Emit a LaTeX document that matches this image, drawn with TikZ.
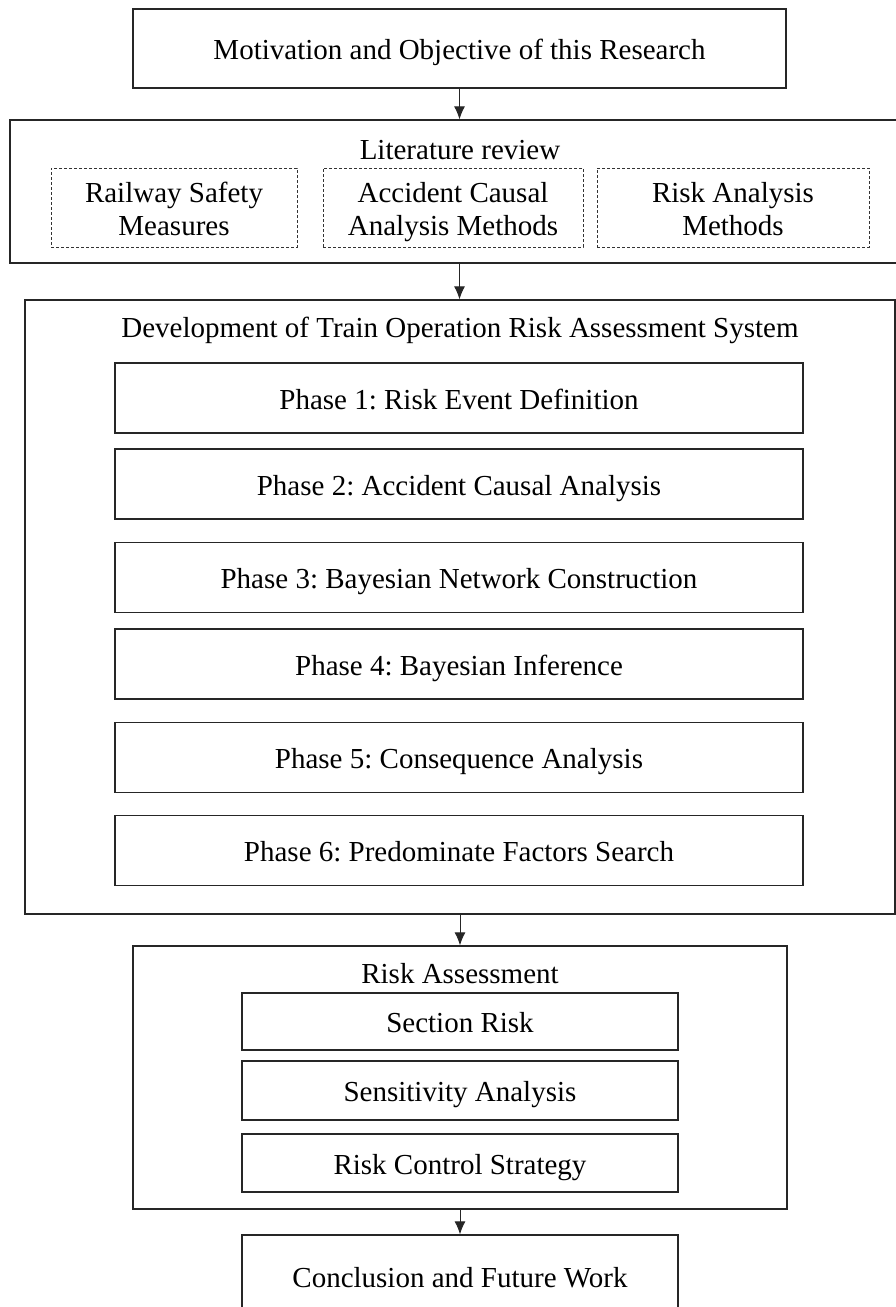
\documentclass[tikz,border=0pt]{standalone}
\usepackage{fontspec}
\setmainfont{Liberation Serif}
\usetikzlibrary{arrows.meta,positioning}
\frenchspacing
% two lines in a dashed box, on fixed baselines
\newcommand{\duoline}[2]{\rule{0pt}{32pt}#1\\#2\strut}

\begin{document}
\begin{tikzpicture}[x=1pt,y=-1pt,>={Latex[length=13pt,width=11pt]},
  font=\fontsize{29}{33}\selectfont,
  box/.style={draw=black!85,line width=1.3pt,inner sep=0pt,align=center,
    text height=25pt,text depth=3pt},
  dashbox/.style={draw=black!80,line width=1pt,dash pattern=on 3pt off 2pt,
    inner sep=0pt,align=center},
  title/.style={inner sep=0pt,text height=25pt,text depth=3pt},
  link/.style={->,line width=1pt,draw=black!85}]
  \useasboundingbox (0,0) rectangle (896,1307);

  % Motivation
  \node[box,minimum width=653pt,minimum height=79pt] (motiv) at (459.5,48.5)
    {Motivation and Objective of this Research};

  % Literature review
  \node[box,minimum width=900pt,minimum height=143pt] (lit) at (460,191.5) {};
  \node[title] (littitle) at (460,148.5) {Literature review};
  \node[dashbox,minimum width=246pt,minimum height=79pt] (railway) at (174,207.5)
    {\duoline{Railway Safety}{Measures}};
  \node[dashbox,minimum width=260pt,minimum height=79pt] (causal) at (453,207.5)
    {\duoline{Accident Causal}{Analysis Methods}};
  \node[dashbox,minimum width=272pt,minimum height=79pt] (riskmeth) at (733,207.5)
    {\duoline{Risk Analysis}{Methods}};

  % Development of the system
  \node[box,minimum width=870pt,minimum height=614pt] (dev) at (460,607) {};
  \node[title] (devtitle) at (460,326)
    {Development of Train Operation Risk Assessment System};
  \foreach \i/\y/\txt in {1/398/Risk Event Definition,
                          2/484/Accident Causal Analysis,
                          3/577.5/Bayesian Network Construction,
                          4/664/Bayesian Inference,
                          5/757.5/Consequence Analysis,
                          6/850.5/Predominate Factors Search}{
    \node[box,minimum width=688pt,minimum height=70pt] (phase\i) at (459,\y)
      {Phase \i: \txt};
  }

  % Risk assessment
  \node[box,minimum width=654pt,minimum height=263pt] (risk) at (460,1077.5) {};
  \node[title] (risktitle) at (460,972) {Risk Assessment};
  \node[box,minimum width=436pt,minimum height=57pt] (section) at (460,1021.5)
    {Section Risk};
  \node[box,minimum width=436pt,minimum height=59pt] (sens) at (460,1090.5)
    {Sensitivity Analysis};
  \node[box,minimum width=436pt,minimum height=58pt] (control) at (460,1163)
    {Risk Control Strategy};

  % Conclusion
  \node[box,minimum width=436pt,minimum height=83pt] (concl) at (460,1276.5)
    {Conclusion and Future Work};

  % Flow
  \draw[link] (motiv.south) -- (motiv.south |- lit.north);
  \draw[link] (motiv.south |- lit.south) -- (motiv.south |- dev.north);
  \draw[link] (dev.south) -- (risk.north);
  \draw[link] (risk.south) -- (concl.north);
\end{tikzpicture}
\end{document}
